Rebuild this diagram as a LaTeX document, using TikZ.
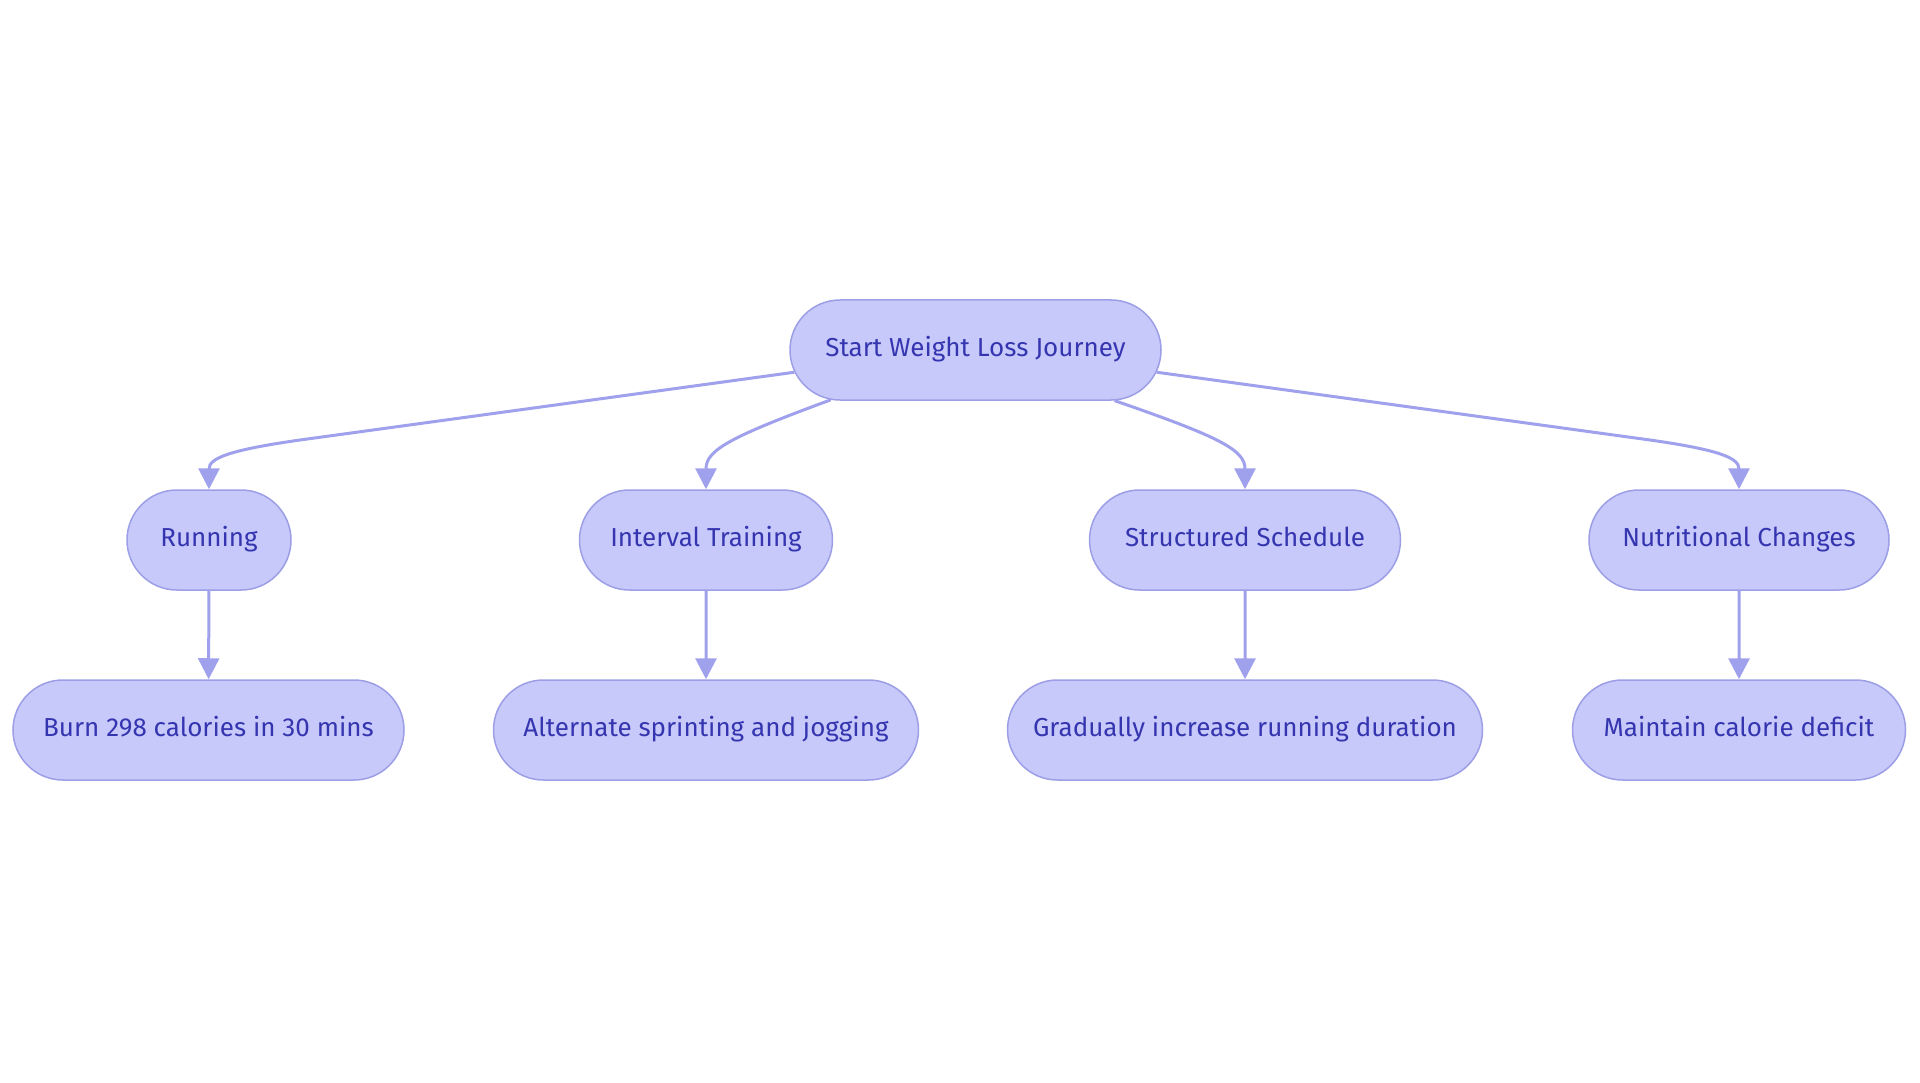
\documentclass[tikz,border=0pt]{standalone}
\usepackage{fontspec}
\setmainfont{Fira Sans}
\usetikzlibrary{shapes.misc,arrows.meta}
\definecolor{nodefill}{HTML}{C7C9FB}
\definecolor{nodedraw}{HTML}{9C9EE6}
\definecolor{nodetext}{HTML}{3535B0}
\definecolor{edgecol}{HTML}{9FA1EC}
\begin{document}
\begin{tikzpicture}[x=1pt,y=-1pt,
  box/.style={rounded rectangle, fill=nodefill, draw=nodedraw, line width=1.5pt,
    minimum height=100pt, inner xsep=0pt, inner ysep=0pt, text=nodetext,
    text height=19pt, text depth=6pt,
    font=\fontsize{26}{30}\selectfont},
  edge/.style={draw=edgecol, line width=3pt, -{Triangle[length=21pt,width=21pt]}}]
\useasboundingbox (0,0) rectangle (1920,1083);
\node[box, minimum width=371pt] (root) at (975.5,350) {Start Weight Loss Journey};
\node[box, minimum width=164pt] (run) at (209,540) {Running};
\node[box, minimum width=253pt] (int) at (706,540) {Interval Training};
\node[box, minimum width=311pt] (str) at (1245,540) {Structured Schedule};
\node[box, minimum width=300pt] (nut) at (1739,540) {Nutritional Changes};
\node[box, minimum width=391pt] (burn) at (208.5,730) {Burn 298 calories in 30 mins};
\node[box, minimum width=425pt] (alt) at (706,730) {Alternate sprinting and jogging};
\node[box, minimum width=475pt] (grad) at (1245,730) {Gradually increase running duration};
\node[box, minimum width=333pt] (main) at (1739,730) {Maintain calorie deficit};
\draw[edge] (root.187) -- (300,440) .. controls (230,450) and (209,458) .. (run.north);
\draw[edge] (root.199.4) .. controls (730,437) and (706,450) .. (int.north);
\draw[edge] (root.340.6) .. controls (1220,437) and (1245,450) .. (str.north);
\draw[edge] (root.353) -- (1650,440) .. controls (1720,450) and (1739,458) .. (nut.north);
\draw[edge] (run) -- (burn);
\draw[edge] (int) -- (alt);
\draw[edge] (str) -- (grad);
\draw[edge] (nut) -- (main);
\end{tikzpicture}
\end{document}
